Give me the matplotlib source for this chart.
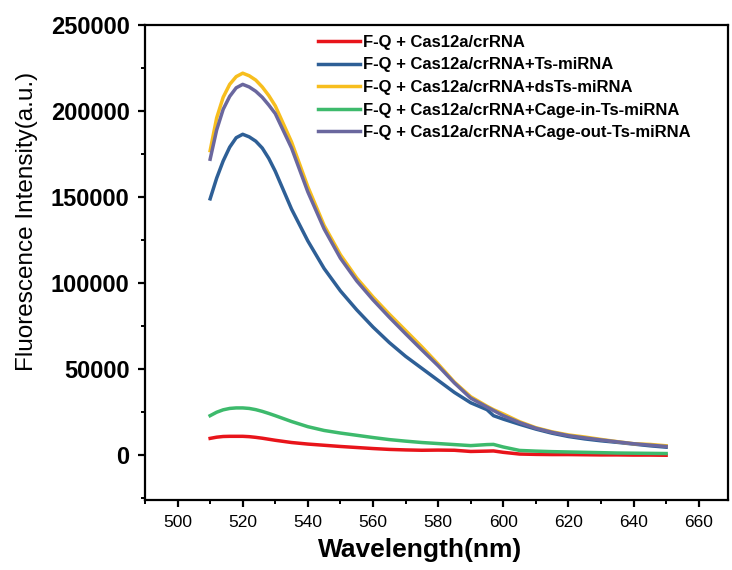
import matplotlib

matplotlib.use("Agg")
import matplotlib.pyplot as plt
from matplotlib.ticker import MultipleLocator

plt.rcParams["font.family"] = ["Liberation Sans", "DejaVu Sans"]

# Longueurs d'onde (nm) et intensités
wavelength = [510, 512, 514, 516, 518, 520, 522, 524, 526, 528, 530, 535, 540, 545, 550,
              555, 560, 565, 570, 575, 580, 585, 590, 595, 597, 600, 605, 610, 615, 620,
              625, 630, 635, 640, 645, 650]

fq_cas = [9800, 10500, 10900, 11000, 11000, 11000, 10800, 10400, 9900, 9300, 8700, 7400,
          6500, 5800, 5100, 4500, 3900, 3400, 3100, 2900, 3000, 2900, 2200, 2400, 2500,
          1700, 700, 500, 400, 400, 300, 200, 200, 100, 100, 0]
ts_mirna = [149000, 161000, 171000, 179000, 184500, 186500, 185000, 182500, 178500, 172500,
            165000, 143000, 124500, 108500, 95500, 84500, 74500, 65500, 57500, 50500,
            43500, 36500, 30500, 26500, 23000, 21000, 18000, 15200, 12800, 10900, 9500,
            8400, 7500, 6500, 5500, 4700]
ds_ts = [177000, 196000, 208000, 215500, 220000, 222000, 220500, 218000, 214000, 209000,
         203000, 182000, 156000, 133500, 116500, 103000, 92000, 82000, 72500, 63000, 53000,
         42500, 34000, 28500, 26500, 24000, 19500, 16000, 13600, 11800, 10600, 9200, 7900,
         6700, 6300, 5500]
cage_in = [23000, 25000, 26400, 27200, 27500, 27500, 27200, 26500, 25500, 24300, 23000,
           19600, 16600, 14400, 12900, 11600, 10300, 9100, 8200, 7400, 6800, 6200, 5600,
           6200, 6300, 4800, 2800, 2400, 2100, 1900, 1700, 1500, 1300, 1200, 1100, 1000]
cage_out = [172000, 189000, 201000, 208500, 213500, 215500, 214000, 211500, 208000, 203500,
            198500, 178500, 153000, 131500, 114500, 101300, 90300, 80200, 70600, 61200,
            52000, 42000, 33200, 28000, 26000, 23000, 19000, 15700, 13300, 11400, 10100,
            8900, 7800, 6700, 5900, 5100]

labels = [
    "F-Q + Cas12a/crRNA",
    "F-Q + Cas12a/crRNA+Ts-miRNA",
    "F-Q + Cas12a/crRNA+dsTs-miRNA",
    "F-Q + Cas12a/crRNA+Cage-in-Ts-miRNA",
    "F-Q + Cas12a/crRNA+Cage-out-Ts-miRNA",
]
colors = ["#e8141a", "#2e5f96", "#f7be1e", "#3dba6c", "#6a679e"]
series = [fq_cas, ts_mirna, ds_ts, cage_in, cage_out]

fig = plt.figure(figsize=(7.32, 5.70), dpi=100)
ax = fig.add_axes([145 / 732, 1 - 500 / 570, 583 / 732, 475 / 570])

# violet tracé après le jaune pour rester visible
order = [0, 3, 1, 2, 4]
handles = {}
for i in order:
    (ln,) = ax.plot(wavelength, series[i], color=colors[i], lw=2.5, label=labels[i])
    handles[i] = ln

ax.set_xlim(490, 669)
ax.set_ylim(-26000, 250000)
ax.xaxis.set_major_locator(MultipleLocator(20))
ax.xaxis.set_minor_locator(MultipleLocator(10))
ax.yaxis.set_major_locator(MultipleLocator(50000))
ax.yaxis.set_minor_locator(MultipleLocator(25000))

for s in ax.spines.values():
    s.set_linewidth(1.6)
ax.tick_params(which="major", direction="out", length=5, width=1.6, pad=6)
ax.tick_params(which="minor", direction="out", length=3, width=1.4)
ax.tick_params(axis="x", labelsize=12.5)
ax.tick_params(axis="y", labelsize=17)
for t in ax.get_yticklabels():
    t.set_fontweight("bold")

ax.set_xlabel("Wavelength(nm)", fontsize=19, fontweight="bold")
ax.set_ylabel("Fluorescence Intensity(a.u.)", fontsize=17.5)
ax.xaxis.set_label_coords(0.472, -0.080)
ax.yaxis.set_label_coords(-0.184, 0.587)

ax.legend([handles[i] for i in range(5)], labels, loc="upper left",
          bbox_to_anchor=(318 / 732, 1 - 35 / 570), bbox_transform=fig.transFigure,
          frameon=False, borderpad=0, borderaxespad=0, handlelength=2.5,
          handletextpad=0.2, labelspacing=0.45, prop={"weight": "bold", "size": 12})

fig.savefig("out.png", dpi=100)
